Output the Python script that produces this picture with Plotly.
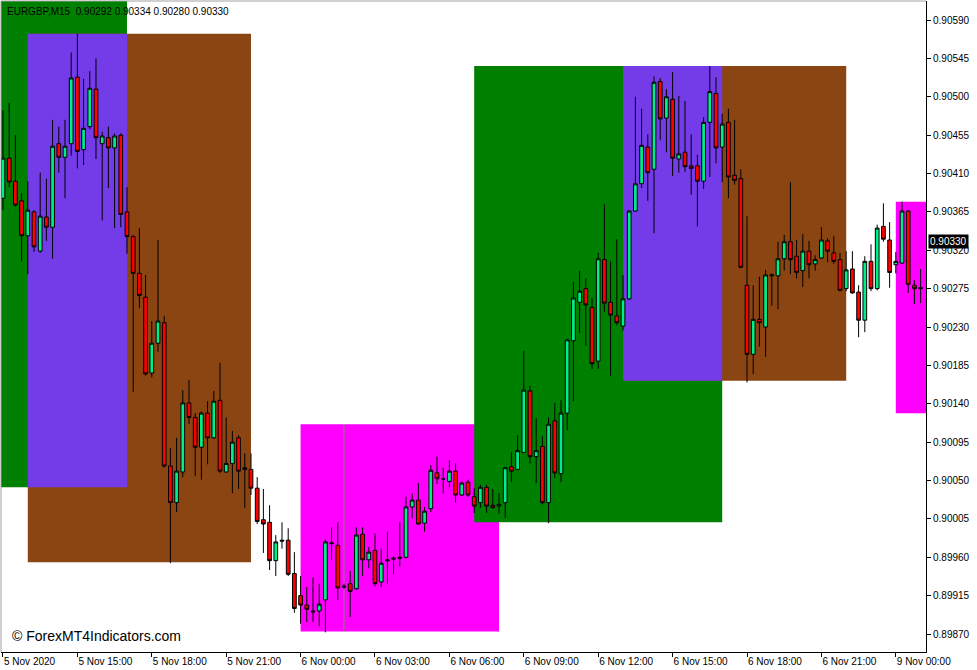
import plotly.graph_objects as go

# ---- data (EURGBP M15) ----
open_ = [0.90381,0.90428,0.90401,0.90378,0.90337,0.90365,0.90319,0.90359,0.90347,0.90445,
         0.90429,0.90445,0.90523,0.90438,0.90465,0.90509,0.90445,0.90452,0.90440,0.90455,
         0.90365,0.90336,0.90293,0.90265,0.90176,0.90211,0.90235,0.90067,0.90024,0.90060,
         0.90141,0.90124,0.90089,0.90129,0.90100,0.90144,0.90060,0.90070,0.90100,0.90065,
         0.90063,0.90041,0.90004,0.90001,0.89956,0.89980,0.89980,0.89941,0.89915,0.89904,
         0.89897,0.89897,0.89910,0.89977,0.89974,0.89925,0.89929,0.89923,0.89987,0.89957,
         0.89968,0.89931,0.89957,0.89959,0.89960,0.89960,0.90019,0.90027,0.90000,0.90017,
         0.90059,0.90052,0.90049,0.90061,0.90033,0.90048,0.90031,0.90024,0.90042,0.90021,
         0.90020,0.90024,0.90066,0.90063,0.90083,0.90155,0.90078,0.90090,0.90024,0.90120,
         0.90058,0.90129,0.90214,0.90259,0.90275,0.90253,0.90190,0.90309,0.90259,0.90243,
         0.90231,0.90263,0.90366,0.90398,0.90441,0.90415,0.90518,0.90475,0.90497,0.90427,
         0.90435,0.90419,0.90419,0.90401,0.90470,0.90504,0.90441,0.90470,0.90408,0.90404,
         0.90279,0.90198,0.90239,0.90230,0.90290,0.90290,0.90310,0.90330,0.90313,0.90296,
         0.90319,0.90304,0.90311,0.90331,0.90317,0.90309,0.90275,0.90298,0.90271,0.90238,
         0.90307,0.90275,0.90348,0.90332,0.90303,0.90305,0.90366,0.90279,0.90275]
high = [0.90484,0.90493,0.90455,0.90387,0.90401,0.90367,0.90411,0.90404,0.90473,0.90465,
        0.90473,0.90552,0.90574,0.90521,0.90530,0.90545,0.90459,0.90465,0.90457,0.90457,
        0.90394,0.90338,0.90346,0.90291,0.90237,0.90332,0.90243,0.90088,0.90100,0.90156,
        0.90168,0.90129,0.90131,0.90143,0.90155,0.90188,0.90124,0.90108,0.90103,0.90082,
        0.90082,0.90054,0.90040,0.90021,0.89986,0.90001,0.89994,0.89966,0.89938,0.89925,
        0.89936,0.89929,0.89981,0.89995,0.90001,0.89929,0.89944,0.89995,0.89995,0.89972,
        0.89988,0.89970,0.89990,0.89961,0.90001,0.90031,0.90035,0.90047,0.90019,0.90068,
        0.90078,0.90065,0.90074,0.90070,0.90049,0.90051,0.90041,0.90045,0.90045,0.90040,
        0.90035,0.90066,0.90083,0.90103,0.90202,0.90161,0.90123,0.90102,0.90124,0.90141,
        0.90144,0.90216,0.90283,0.90296,0.90287,0.90264,0.90317,0.90374,0.90307,0.90333,
        0.90291,0.90367,0.90500,0.90486,0.90456,0.90524,0.90522,0.90509,0.90529,0.90501,
        0.90495,0.90456,0.90432,0.90476,0.90536,0.90523,0.90480,0.90486,0.90473,0.90415,
        0.90360,0.90279,0.90289,0.90297,0.90293,0.90330,0.90338,0.90400,0.90332,0.90339,
        0.90331,0.90314,0.90347,0.90334,0.90337,0.90317,0.90319,0.90319,0.90279,0.90313,
        0.90327,0.90350,0.90375,0.90353,0.90318,0.90377,0.90367,0.90285,0.90298]
low = [0.90367,0.90394,0.90371,0.90307,0.90292,0.90318,0.90317,0.90331,0.90310,0.90411,
       0.90381,0.90431,0.90416,0.90420,0.90462,0.90427,0.90355,0.90393,0.90346,0.90347,
       0.90316,0.90154,0.90252,0.90173,0.90171,0.90201,0.90065,0.89953,0.90013,0.90054,
       0.90116,0.90055,0.90051,0.90069,0.90099,0.90059,0.90059,0.90035,0.90040,0.90018,
       0.90033,0.89999,0.89965,0.89945,0.89938,0.89970,0.89938,0.89895,0.89882,0.89884,
       0.89884,0.89879,0.89872,0.89957,0.89910,0.89923,0.89890,0.89922,0.89938,0.89947,
       0.89926,0.89925,0.89929,0.89940,0.89949,0.89959,0.90006,0.89998,0.89990,0.90013,
       0.90046,0.90035,0.90042,0.90024,0.90032,0.90031,0.90012,0.90018,0.90012,0.90017,
       0.90011,0.90006,0.90048,0.90062,0.90082,0.90070,0.90047,0.90022,0.90000,0.90053,
       0.90048,0.90109,0.90143,0.90223,0.90208,0.90181,0.90181,0.90248,0.90173,0.90232,
       0.90226,0.90262,0.90365,0.90393,0.90378,0.90340,0.90449,0.90435,0.90407,0.90411,
       0.90412,0.90385,0.90348,0.90392,0.90406,0.90422,0.90400,0.90381,0.90397,0.90299,
       0.90165,0.90175,0.90207,0.90195,0.90255,0.90251,0.90296,0.90292,0.90287,0.90277,
       0.90287,0.90296,0.90310,0.90306,0.90304,0.90272,0.90272,0.90269,0.90218,0.90224,
       0.90272,0.90273,0.90330,0.90276,0.90293,0.90304,0.90270,0.90257,0.90258]
close = [0.90428,0.90400,0.90373,0.90337,0.90367,0.90324,0.90360,0.90347,0.90442,0.90429,
         0.90442,0.90522,0.90436,0.90463,0.90510,0.90452,0.90454,0.90440,0.90454,0.90362,
         0.90336,0.90293,0.90267,0.90175,0.90211,0.90237,0.90067,0.90024,0.90061,0.90141,
         0.90124,0.90089,0.90129,0.90100,0.90143,0.90061,0.90070,0.90095,0.90061,0.90063,
         0.90041,0.90002,0.89999,0.89956,0.89978,0.89979,0.89940,0.89900,0.89904,0.89899,
         0.89896,0.89905,0.89978,0.89976,0.89924,0.89926,0.89920,0.89986,0.89957,0.89966,
         0.89929,0.89953,0.89956,0.89958,0.89959,0.90019,0.90027,0.89999,0.90014,0.90062,
         0.90052,0.90052,0.90061,0.90033,0.90047,0.90033,0.90020,0.90042,0.90020,0.90018,
         0.90022,0.90065,0.90061,0.90085,0.90156,0.90078,0.90085,0.90024,0.90116,0.90059,
         0.90129,0.90215,0.90264,0.90272,0.90256,0.90187,0.90310,0.90258,0.90244,0.90235,
         0.90263,0.90366,0.90398,0.90443,0.90411,0.90517,0.90474,0.90500,0.90428,0.90433,
         0.90418,0.90416,0.90401,0.90470,0.90506,0.90440,0.90468,0.90406,0.90402,0.90300,
         0.90198,0.90239,0.90235,0.90291,0.90291,0.90310,0.90330,0.90309,0.90294,0.90319,
         0.90303,0.90309,0.90332,0.90319,0.90307,0.90273,0.90297,0.90270,0.90238,0.90307,
         0.90275,0.90346,0.90333,0.90294,0.90307,0.90366,0.90280,0.90275,0.90276]
bar_index = list(range(len(open_)))

time_tick_index = [0, 12, 24, 36, 48, 60, 72, 84, 96, 108, 120, 132, 144]
time_tick_labels = ["5 Nov 2020", "5 Nov 15:00", "5 Nov 18:00", "5 Nov 21:00",
                    "6 Nov 00:00", "6 Nov 03:00", "6 Nov 06:00", "6 Nov 09:00",
                    "6 Nov 12:00", "6 Nov 15:00", "6 Nov 18:00", "6 Nov 21:00",
                    "9 Nov 00:00"]
price_ticks = [0.89870, 0.89915, 0.89960, 0.90005, 0.90050, 0.90095, 0.90140,
               0.90185, 0.90230, 0.90275, 0.90320, 0.90365, 0.90410, 0.90455,
               0.90500, 0.90545, 0.90590]

# trading-session boxes (bar index start/end, price high/low)
session_name = ["London", "NY", "Overlap", "Asia", "London", "NY", "Overlap", "Asia"]
session_start = [-20, 4, 4, 48, 76, 100, 100, 144]
session_end = [20, 40, 20, 80, 116, 136, 116, 152]
session_high = [0.90620, 0.90574, 0.90574, 0.90116, 0.90536, 0.90536, 0.90536, 0.90377]
session_low = [0.90042, 0.89954, 0.90042, 0.89873, 0.90001, 0.90167, 0.90167, 0.90129]
session_colors = {"London": "#008000", "NY": "#8B4513", "Overlap": "#743BE8", "Asia": "#FF00FF"}

marker_index = 55
header_text = "EURGBP,M15  0.90292 0.90334 0.90280 0.90330"
last_price = 0.90330

FONT = "Liberation Sans"

fig = go.Figure()
fig.add_trace(go.Candlestick(
    x=bar_index, open=open_, high=high, low=low, close=close,
    increasing=dict(fillcolor="#00EE88", line=dict(color="#000000", width=1)),
    decreasing=dict(fillcolor="#FF0000", line=dict(color="#000000", width=1)),
    whiskerwidth=0, showlegend=False, hoverinfo="skip",
))

shapes = []
for n, s, e, h, l in zip(session_name, session_start, session_end, session_high, session_low):
    shapes.append(dict(type="rect", xref="x", yref="y", x0=s, x1=e, y0=l, y1=h,
                       fillcolor=session_colors[n], line=dict(width=0), layer="below"))
shapes.append(dict(type="line", xref="x", yref="y", x0=marker_index, x1=marker_index,
                   y0=session_low[3], y1=session_high[3],
                   line=dict(color="#808080", width=1), layer="below"))
# left / top gray frame lines
shapes.append(dict(type="line", xref="paper", yref="paper", x0=0, x1=0, y0=0, y1=1,
                   line=dict(color="#A0A0A0", width=1)))
shapes.append(dict(type="line", xref="paper", yref="paper", x0=0, x1=1, y0=1, y1=1,
                   line=dict(color="#A0A0A0", width=1)))

fig.update_layout(
    width=977, height=670,
    margin=dict(l=1, r=51, t=1, b=18, autoexpand=False),
    paper_bgcolor="white", plot_bgcolor="white",
    boxgap=0.4, boxgroupgap=0,
    shapes=shapes,
    font=dict(family=FONT, size=10, color="black"),
    xaxis=dict(range=[-0.32, 148.87], tickvals=time_tick_index, ticktext=time_tick_labels,
               ticks="outside", ticklen=4, tickcolor="black", showline=True,
               linecolor="black", linewidth=1, showgrid=False, zeroline=False,
               rangeslider=dict(visible=False), ticklabelposition="outside right",
               automargin=False,
               tickfont=dict(family=FONT, size=10, color="black")),
    yaxis=dict(range=[0.898489, 0.906123], side="right", tickvals=price_ticks,
               tickformat=".5f", ticks="outside", ticklen=4, tickcolor="black",
               showline=True, linecolor="black", linewidth=1, showgrid=False,
               zeroline=False, automargin=False,
               tickfont=dict(family=FONT, size=10, color="black")),
    annotations=[
        dict(text=header_text, xref="paper", yref="paper", x=0.004, y=0.996,
             xanchor="left", yanchor="top", showarrow=False,
             font=dict(family=FONT, size=10, color="black")),
        dict(text="© ForexMT4Indicators.com", xref="paper", yref="paper", x=0.010, y=0.025,
             xanchor="left", yanchor="middle", showarrow=False,
             font=dict(family=FONT, size=14, color="black")),
        dict(text="%.5f" % last_price, xref="paper", yref="y", x=1.002, y=last_price,
             xanchor="left", yanchor="middle", showarrow=False, bgcolor="black",
             borderpad=1, font=dict(family=FONT, size=10, color="white")),
    ],
)

fig.write_html("out.html", config={"displayModeBar": False},
               post_script="document.body.style.margin='0';document.body.style.overflow='hidden';")
